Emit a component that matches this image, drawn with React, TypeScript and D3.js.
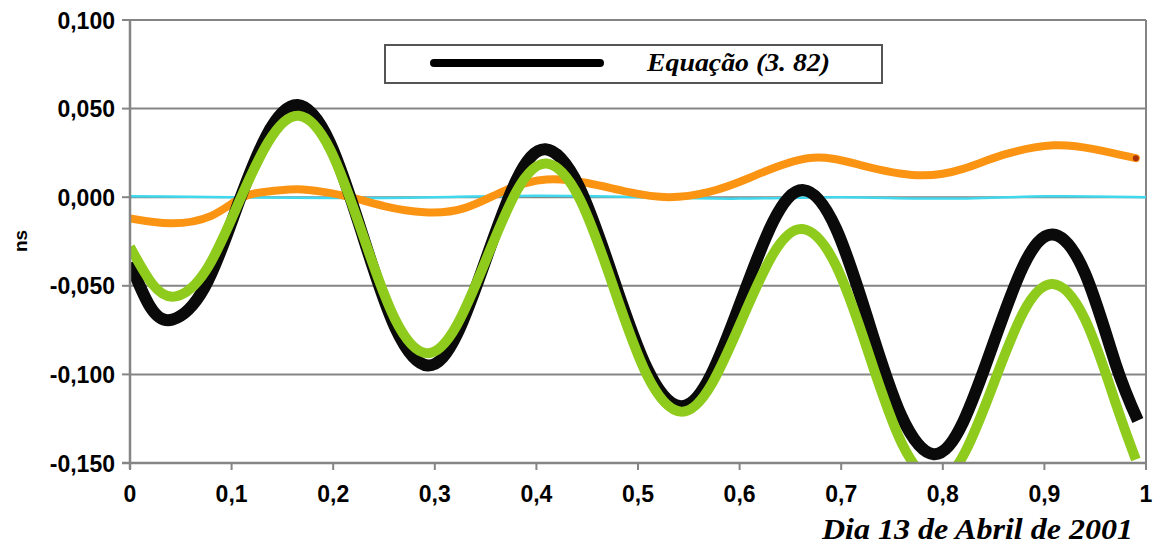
import React from "react";
import * as d3 from "d3";

const W = 1159;
const H = 548;

const xTicks = [0, 0.1, 0.2, 0.3, 0.4, 0.5, 0.6, 0.7, 0.8, 0.9, 1];
const xTickLabels = ["0", "0,1", "0,2", "0,3", "0,4", "0,5", "0,6", "0,7", "0,8", "0,9", "1"];
const yTicks = [0.1, 0.05, 0, -0.05, -0.1, -0.15];
const yTickLabels = ["0,100", "0,050", "0,000", "-0,050", "-0,100", "-0,150"];

// Equação (3. 82) — black
const blackX = [0, 0.02, 0.042, 0.073, 0.1035, 0.134, 0.165, 0.197, 0.229, 0.261, 0.293, 0.322, 0.351, 0.38, 0.409, 0.442, 0.4755, 0.509, 0.542, 0.572, 0.6025, 0.633, 0.663, 0.695, 0.727, 0.759, 0.791, 0.82, 0.8495, 0.879, 0.908, 0.94, 0.97, 0.992];
const blackY = [-0.037, -0.062, -0.069, -0.0513, -0.0085, 0.0343, 0.052, 0.0305, -0.0215, -0.0735, -0.095, -0.0772, -0.034, 0.0092, 0.027, 0.0058, -0.0455, -0.0968, -0.118, -0.1002, -0.057, -0.0138, 0.004, -0.0178, -0.0705, -0.1232, -0.145, -0.1269, -0.083, -0.0391, -0.021, -0.043, -0.094, -0.126];

// green series
const greenX = [0, 0.022, 0.045, 0.075, 0.1055, 0.136, 0.166, 0.1975, 0.229, 0.2605, 0.292, 0.3215, 0.351, 0.3805, 0.41, 0.443, 0.476, 0.509, 0.542, 0.572, 0.602, 0.632, 0.662, 0.695, 0.7275, 0.76, 0.793, 0.822, 0.8505, 0.879, 0.908, 0.94, 0.97, 0.99];
const greenY = [-0.028, -0.049, -0.056, -0.0411, -0.005, 0.0311, 0.046, 0.0264, -0.021, -0.0684, -0.088, -0.0724, -0.0345, 0.0034, 0.019, -0.0014, -0.051, -0.1006, -0.121, -0.106, -0.0695, -0.033, -0.018, -0.0387, -0.089, -0.1393, -0.16, -0.1438, -0.1045, -0.0652, -0.049, -0.069, -0.116, -0.148];

// orange series
const orangeX = [0, 0.04, 0.08, 0.111, 0.14, 0.165, 0.19, 0.217, 0.25, 0.29, 0.33, 0.37, 0.41, 0.45, 0.49, 0.53, 0.57, 0.61, 0.667, 0.72, 0.775, 0.82, 0.86, 0.909, 0.95, 0.99];
const orangeY = [-0.012, -0.0147, -0.0105, 0.0, 0.0035, 0.0045, 0.003, 0.0, -0.005, -0.0085, -0.006, 0.004, 0.01, 0.008, 0.003, 0.0, 0.003, 0.011, 0.022, 0.018, 0.0124, 0.016, 0.024, 0.0293, 0.027, 0.022];

// cyan series
const cyanX = [0, 0.1, 0.2, 0.3, 0.4, 0.5, 0.6, 0.7, 0.8, 0.9, 1];
const cyanY = [0.0005, 0.0, -0.0005, 0.0, 0.0008, 0.0, -0.0008, 0.0, -0.0008, 0.0005, 0.0];

const legendLabel = "Equação (3. 82)";
const xTitle = "Dia 13 de Abril de 2001";
const yTitle = "ns";

const left = 130;
const right = 1146;
const top = 20;
const bottom = 463;

export default function App() {
  const x = d3.scaleLinear().domain([0, 1]).range([left, right]);
  const y = d3.scaleLinear().domain([-0.15, 0.1]).range([bottom, top]);

  const mk = (xs: number[], ys: number[]) =>
    d3
      .line<number>()
      .x((_, i) => x(xs[i]))
      .y((v) => y(v))
      .curve(d3.curveNatural)(ys) || "";

  const sans = "'Liberation Sans', Arial, sans-serif";
  const serif = "'Liberation Serif', 'Times New Roman', serif";
  const grid = "#858585";

  return (
    <svg
      width={W}
      height={H}
      style={{ position: "absolute", left: 0, top: 0, background: "#fff" }}
    >
      <defs>
        <clipPath id="plot">
          <rect x={left} y={top - 10} width={right - left} height={bottom - top + 10} />
        </clipPath>
      </defs>
      <rect x={0} y={0} width={W} height={H} fill="#fff" />
      {yTicks.map((t) => (
        <line key={t} x1={left} x2={right} y1={y(t)} y2={y(t)} stroke={grid} strokeWidth={2} />
      ))}
      <line x1={right} x2={right} y1={top} y2={bottom} stroke={grid} strokeWidth={2} />
      <g clipPath="url(#plot)">
        <path d={mk(cyanX, cyanY)} fill="none" stroke="#3fd8ec" strokeWidth={2.5} />
        <path d={mk(orangeX, orangeY)} fill="none" stroke="#fb9412" strokeWidth={8} strokeLinecap="round" />
        <circle cx={x(orangeX[orangeX.length - 1])} cy={y(orangeY[orangeY.length - 1])} r={3} fill="#a8300a" />
        <path d={mk(blackX, blackY)} fill="none" stroke="#0a0a0a" strokeWidth={12} />
        <path d={mk(greenX, greenY)} fill="none" stroke="#8fcb1c" strokeWidth={10} />
      </g>
      <line x1={left} x2={left} y1={top} y2={bottom + 6} stroke={grid} strokeWidth={2.5} />
      <line x1={left - 8} x2={right} y1={bottom} y2={bottom} stroke={grid} strokeWidth={2.5} />
      {yTicks.map((t) => (
        <line key={"yt" + t} x1={left - 8} x2={left} y1={y(t)} y2={y(t)} stroke={grid} strokeWidth={2} />
      ))}
      {xTicks.map((t) => (
        <line key={"xt" + t} x1={x(t)} x2={x(t)} y1={bottom} y2={bottom + 7} stroke={grid} strokeWidth={2} />
      ))}
      {yTicks.map((t, i) => (
        <text
          key={"yl" + t}
          x={115}
          y={y(t) + 8.5}
          textAnchor="end"
          fontFamily={sans}
          fontWeight="bold"
          fontSize={23}
          fill="#000"
        >
          {yTickLabels[i]}
        </text>
      ))}
      {xTicks.map((t, i) => (
        <text
          key={"xl" + t}
          x={x(t)}
          y={502}
          textAnchor="middle"
          fontFamily={sans}
          fontWeight="bold"
          fontSize={23}
          fill="#000"
        >
          {xTickLabels[i]}
        </text>
      ))}
      <text
        x={0}
        y={0}
        transform="translate(27,241) rotate(-90)"
        textAnchor="middle"
        fontFamily={sans}
        fontWeight="bold"
        fontSize={19}
        fill="#000"
      >
        {yTitle}
      </text>
      <text
        x={822}
        y={539}
        textLength={311}
        lengthAdjust="spacingAndGlyphs"
        fontFamily={serif}
        fontWeight="bold"
        fontStyle="italic"
        fontSize={29}
        fill="#000"
      >
        {xTitle}
      </text>
      <rect x={385} y={45} width={497} height={38} fill="#fff" stroke="#555" strokeWidth={2} />
      <line x1={434} x2={600} y1={63} y2={63} stroke="#000" strokeWidth={8} strokeLinecap="round" />
      <text
        x={647}
        y={71}
        textLength={183}
        lengthAdjust="spacingAndGlyphs"
        fontFamily={serif}
        fontWeight="bold"
        fontStyle="italic"
        fontSize={25}
        fill="#000"
      >
        {legendLabel}
      </text>
    </svg>
  );
}
